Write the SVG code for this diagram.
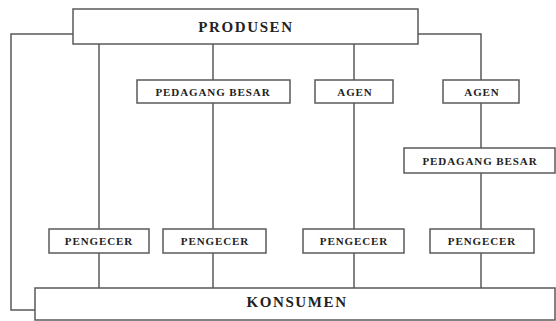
<svg xmlns="http://www.w3.org/2000/svg" width="556" height="321" viewBox="0 0 556 321">
<style>
.box{fill:#fff;stroke:#5a5a5a;stroke-width:1.5}
.ln{fill:none;stroke:#5a5a5a;stroke-width:1.5}
.t{font-family:"Liberation Serif","Times New Roman",serif;font-weight:bold;fill:#222;text-anchor:middle}
.s{font-size:11px;letter-spacing:0.9px}
.b{font-size:15px;letter-spacing:1.6px}
</style>
<rect width="556" height="321" fill="#fff"/>
<g id="connectors">
<polyline class="ln" points="73,34 11,34 11,310 35,310"/>
<polyline class="ln" points="418,34 481,34 481,80"/>
<line class="ln" x1="99" y1="44" x2="99" y2="288"/>
<line class="ln" x1="213" y1="44" x2="213" y2="288"/>
<line class="ln" x1="354" y1="44" x2="354" y2="288"/>
<line class="ln" x1="481" y1="103" x2="481" y2="288"/>
</g>
<g id="produsen"><rect class="box" x="73" y="9" width="345" height="35"/><text class="t b" x="246" y="32">PRODUSEN</text></g>
<g id="pedagang1"><rect class="box" x="137" y="80" width="153" height="23"/><text class="t s" x="213" y="95.5">PEDAGANG BESAR</text></g>
<g id="agen1"><rect class="box" x="315" y="80" width="78" height="23"/><text class="t s" x="355" y="95.5">AGEN</text></g>
<g id="agen2"><rect class="box" x="443" y="80" width="76" height="23"/><text class="t s" x="482" y="95.5">AGEN</text></g>
<g id="pedagang2"><rect class="box" x="404" y="148" width="151" height="25"/><text class="t s" x="480" y="164.5">PEDAGANG BESAR</text></g>
<g id="pengecer1"><rect class="box" x="49" y="229" width="100" height="24"/><text class="t s" x="99" y="245">PENGECER</text></g>
<g id="pengecer2"><rect class="box" x="163" y="229" width="103" height="24"/><text class="t s" x="215" y="245">PENGECER</text></g>
<g id="pengecer3"><rect class="box" x="303" y="229" width="101" height="24"/><text class="t s" x="354" y="245">PENGECER</text></g>
<g id="pengecer4"><rect class="box" x="430" y="229" width="104" height="24"/><text class="t s" x="482" y="245">PENGECER</text></g>
<g id="konsumen"><rect class="box" x="35" y="288" width="520" height="32"/><text class="t b" x="297" y="307">KONSUMEN</text></g>
</svg>
